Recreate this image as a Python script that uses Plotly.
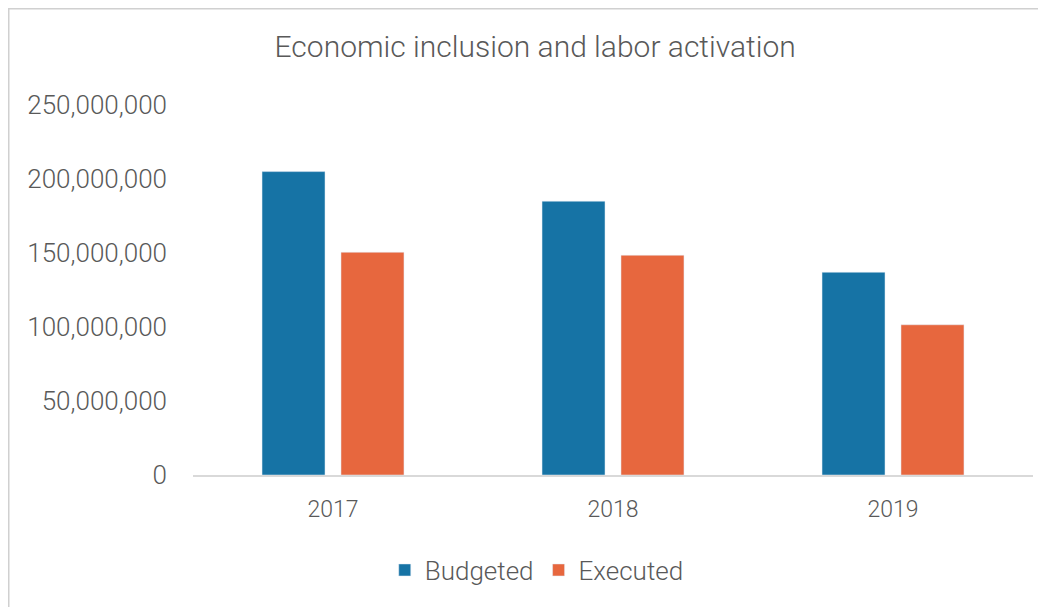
import plotly.graph_objects as go

years = ["2017", "2018", "2019"]
budgeted = [205_000_000, 185_000_000, 137_000_000]
executed = [150_500_000, 148_500_000, 101_500_000]
tick_vals = [0, 50_000_000, 100_000_000, 150_000_000, 200_000_000, 250_000_000]
tick_text = ["0", "50,000,000", "100,000,000", "150,000,000", "200,000,000", "250,000,000"]

FONT = "Roboto, sans-serif"
TXT = "#595959"

# page has an 8px body offset; plot area target: x 193-1033, y 105-475 on the page
OFF = 8
L, T, W, H = 193 - OFF, 105 - OFF, 840, 370

fig = go.Figure()
fig.add_trace(go.Bar(name="Budgeted", x=years, y=budgeted, marker=dict(color="#1673A5")))
fig.add_trace(go.Bar(name="Executed", x=years, y=executed, marker=dict(color="#E7673E")))

fig.update_layout(
    width=1046, height=607,
    margin=dict(l=L, r=1046 - L - W, t=T, b=607 - T - H),
    paper_bgcolor="white", plot_bgcolor="white",
    barmode="group", bargap=0.436, bargroupgap=0.2025,
    font=dict(family=FONT, color=TXT, weight=300),
    title=dict(text="Economic inclusion and labor activation", x=0.504, xref="container",
               xanchor="center", y=0.937, yanchor="middle",
               font=dict(family=FONT, size=30, color=TXT, weight=300)),
    xaxis=dict(showline=True, linecolor="#D9D9D9", linewidth=2, ticks="",
               tickfont=dict(size=23, color=TXT, weight=300), showgrid=False,
               automargin=False, ticklabelstandoff=12),
    yaxis=dict(range=[0, 250_000_000], tickvals=tick_vals, ticktext=tick_text,
               showgrid=False, zeroline=False, showline=False, ticks="",
               tickfont=dict(size=26, color=TXT, weight=300), ticklabelstandoff=25,
               automargin=False),
    legend=dict(orientation="h", x=0.5055, xanchor="center", xref="container",
                y=0.074, yanchor="middle", yref="container",
                font=dict(size=26, color=TXT, weight=300), itemwidth=30, traceorder="normal"),
    showlegend=True,
)
fig.add_shape(type="rect", xref="paper", yref="paper",
              x0=(0.5 - L) / W, x1=(1100 - L) / W,
              y0=(T + H - 700) / H, y1=(T + H - 0.5) / H,
              line=dict(color="#D0D0D0", width=2), fillcolor="rgba(0,0,0,0)", layer="below")
fig.write_html("out.html")
